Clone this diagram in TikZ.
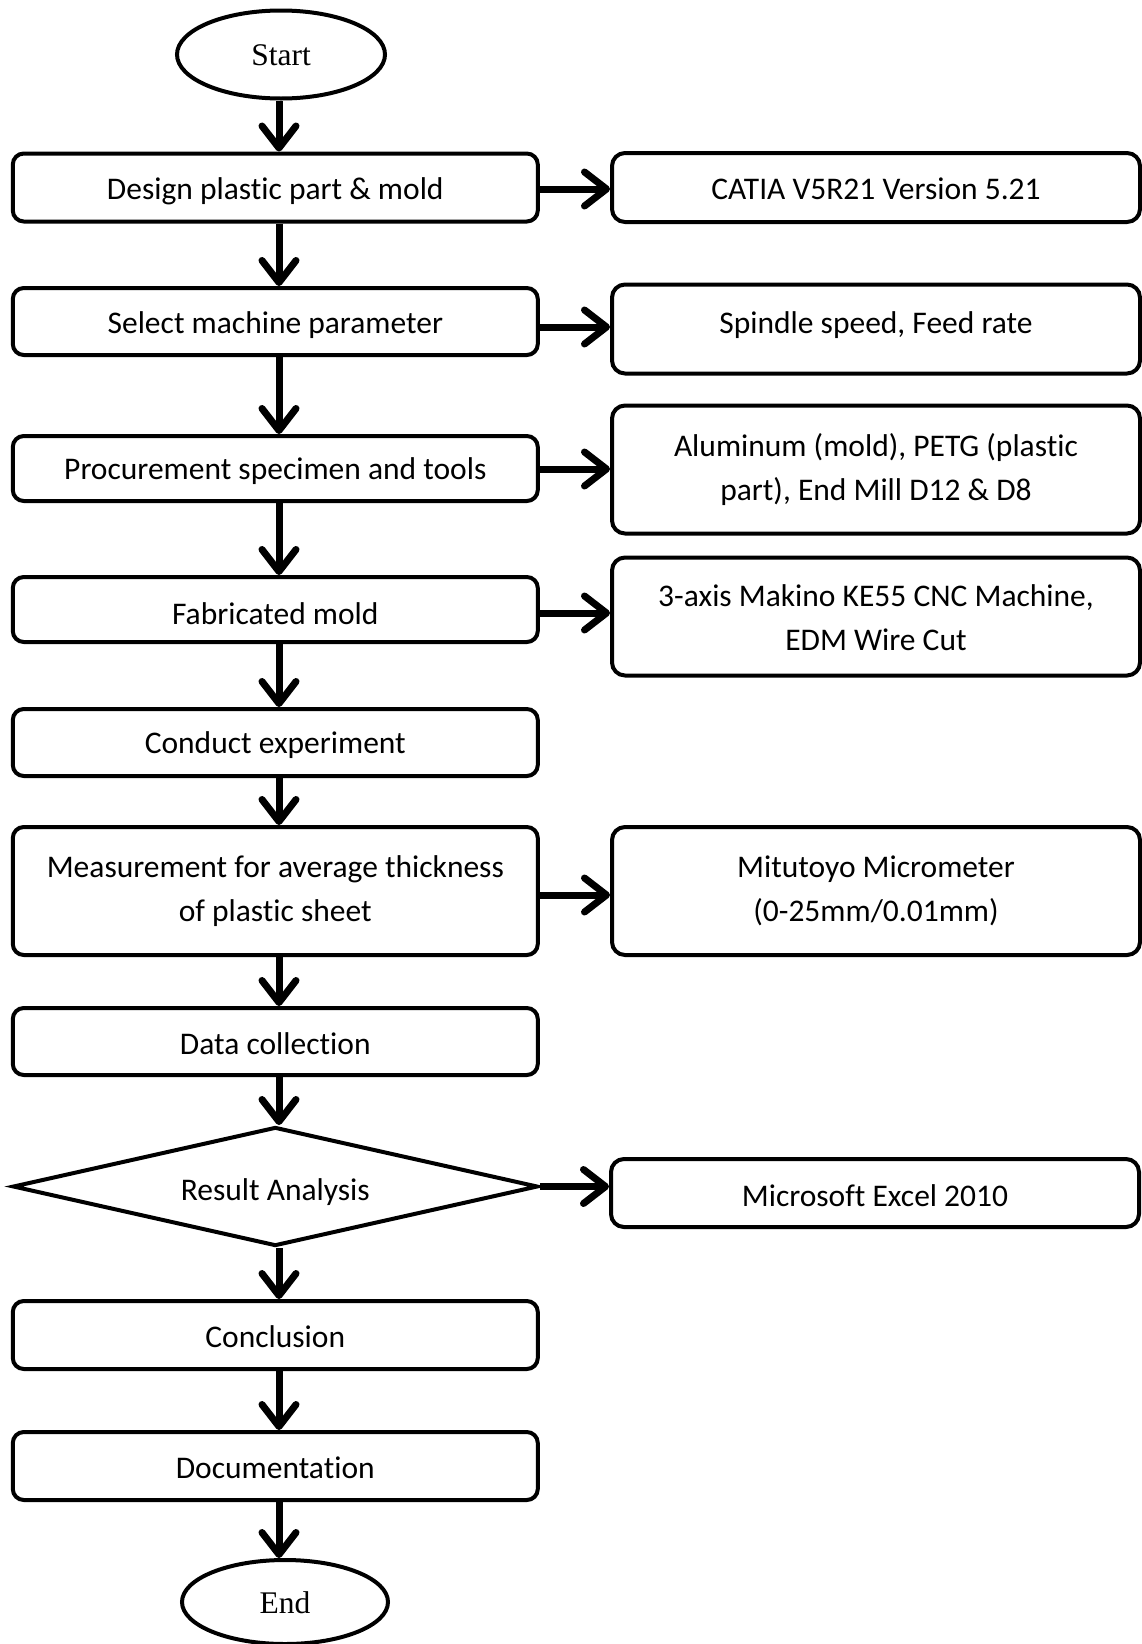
\documentclass[tikz,border=0pt]{standalone}
\usepackage{fontspec}
\setmainfont[Ligatures=NoCommon]{Carlito}
\newfontfamily\tnr{Liberation Serif}
\usetikzlibrary{arrows.meta,shapes.geometric}
\newcommand\lowr[2]{\raisebox{#1}[\height][\depth]{#2}}
\tikzset{
  base/.style={draw=black, line width=4pt, fill=white, inner sep=0pt, align=center,
     font=\fontsize{31.5}{44}\selectfont},
  pbox/.style={base, rounded corners=11pt, minimum width=525pt},
  rbox/.style={base, rounded corners=13pt, minimum width=528pt},
  term/.style={base, ellipse, font=\tnr\fontsize{31.5}{40}\selectfont},
  dec/.style={base, diamond, minimum width=525pt, minimum height=119pt, aspect=4.4},
  arr/.style={line width=7pt, -{Straight Barb[length=22pt,width=34pt,line cap=round,line join=round]}},
}
\begin{document}
\begin{tikzpicture}[x=1pt,y=-1pt]
\useasboundingbox (0,0) rectangle (1142,1644);
\coordinate (ax) at (279,0);
\node[term, minimum width=208pt, minimum height=88pt] (start) at (281,54.5) {\lowr{-1pt}{Start}};
\node[pbox, minimum height=68pt] (b1) at (275.3,187.5) {\lowr{-4pt}{Design plastic part \& mold}};
\node[pbox, minimum height=67pt] (b2) at (275.3,321.5) {\lowr{-4pt}{Select machine parameter}};
\node[pbox, minimum height=65pt] (b3) at (275.3,468.5) {\lowr{-3pt}{Procurement specimen and tools}};
\node[pbox, minimum height=65pt] (b4) at (275.3,609.5) {\lowr{-4pt}{Fabricated mold}};
\node[pbox, minimum height=67pt] (b5) at (275.3,742.5) {\lowr{-3pt}{Conduct experiment}};
\node[pbox, minimum height=128pt] (b6) at (275.3,891) {Measurement for average thickness\\of plastic sheet};
\node[pbox, minimum height=67pt] (b7) at (275.3,1041.5) {\lowr{-2pt}{Data collection}};
\node[dec] (d1) at (275.3,1186.5) {\lowr{-6pt}{Result Analysis}};
\node[pbox, minimum height=68pt] (b8) at (275.3,1335) {\lowr{-2pt}{Conclusion}};
\node[pbox, minimum height=68pt] (b9) at (275.3,1466) {\lowr{-2pt}{Documentation}};
\node[term, minimum width=206pt, minimum height=84pt] (end) at (285,1602) {\lowr{-1pt}{End}};

\node[rbox, minimum height=69pt] (r1) at (876,187.5) {\lowr{-1pt}{CATIA V5R21 Version 5.21}};
\node[rbox, minimum height=89pt] (r2) at (876,329) {\lowr{4pt}{Spindle speed, Feed rate}};
\node[rbox, minimum height=128pt] (r3) at (876,469.5) {Aluminum (mold), PETG (plastic\\part), End Mill D12 \& D8};
\node[rbox, minimum height=118pt] (r4) at (876,616.5) {\lowr{-1pt}{3-axis Makino KE55 CNC Machine,}\\\lowr{-1pt}{EDM Wire Cut}};
\node[rbox, minimum height=128pt] (r6) at (876,891) {Mitutoyo Micrometer\\(0-25mm/0.01mm)};
\node[rbox, minimum height=68pt] (r7) at (875,1193) {\lowr{-3pt}{Microsoft Excel 2010}};

\draw[arr] (start.south -| ax) -- (b1.north -| ax);
\draw[arr] (b1.south -| ax) -- (b2.north -| ax);
\draw[arr] (b2.south -| ax) -- (b3.north -| ax);
\draw[arr] (b3.south -| ax) -- (b4.north -| ax);
\draw[arr] (b4.south -| ax) -- (b5.north -| ax);
\draw[arr] (b5.south -| ax) -- (b6.north -| ax);
\draw[arr] (b6.south -| ax) -- (b7.north -| ax);
\draw[arr] (b7.south -| ax) -- (d1.north -| ax);
\draw[arr] (d1.south -| ax) -- (b8.north -| ax);
\draw[arr] (b8.south -| ax) -- (b9.north -| ax);
\draw[arr] (b9.south -| ax) -- (end.north -| ax);

\draw[arr] (b1.east |- 0,189) -- (r1.west |- 0,189);
\draw[arr] (b2.east |- 0,327) -- (r2.west |- 0,327);
\draw[arr] (b3.east |- 0,469) -- (r3.west |- 0,469);
\draw[arr] (b4.east |- 0,613) -- (r4.west |- 0,613);
\draw[arr] (b6.east |- 0,895) -- (r6.west |- 0,895);
\draw[arr] (d1.east) -- (r7.west |- d1.east);
\end{tikzpicture}
\end{document}
